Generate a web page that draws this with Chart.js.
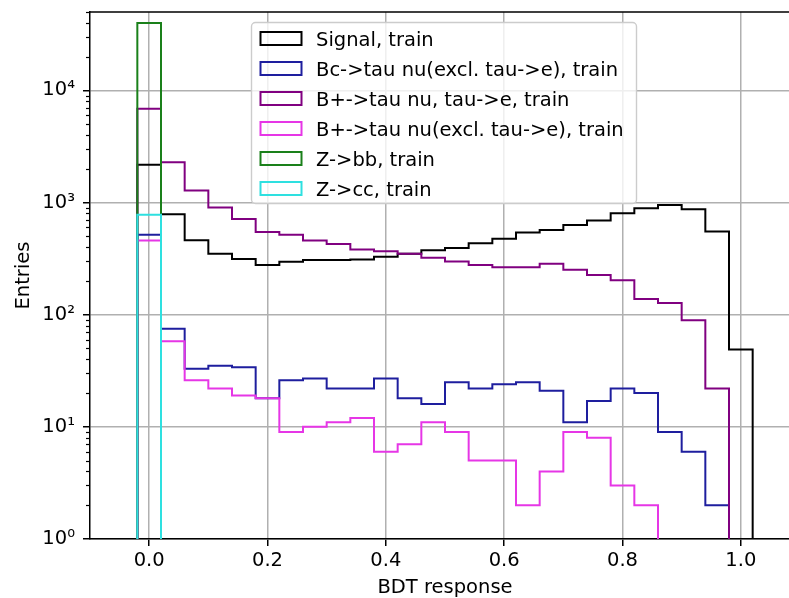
<!DOCTYPE html>
<html>
<head>
<meta charset="utf-8">
<title>BDT response</title>
<script src="https://cdn.jsdelivr.net/npm/chart.js@4.4.1/dist/chart.umd.min.js"></script>
<style>
    html, body { margin: 0; padding: 0; background: #fff; overflow: hidden; }
    #wrap { position: relative; width: 810px; height: 598px; }
</style>
</head>
<body>
<div id="wrap"><canvas id="chartBDT"></canvas></div>
<script>
// ============= DATA =============

// bin edges of the BDT response histogram (26 bins)
const binEdges = [-0.02, 0.02, 0.06, 0.10, 0.14, 0.18, 0.22, 0.26, 0.30, 0.34, 0.38, 0.42, 0.46,
    0.50, 0.54, 0.58, 0.62, 0.66, 0.70, 0.74, 0.78, 0.82, 0.86, 0.90, 0.94, 0.98, 1.02];

const signalTrain = [2170, 785, 462, 349, 314, 277, 297, 308, 308, 310, 328, 349, 375,
    393, 434, 476, 540, 568, 632, 691, 804, 891, 952, 873, 551, 49];
const bcTauNuTrain = [515, 75, 33, 35, 34, 18, 26, 27, 22, 22, 27, 18, 16,
    25, 22, 24, 25, 21, 11, 17, 22, 20, 9, 6, 2, 0];
const bpmTauNuTauETrain = [6850, 2290, 1280, 905, 712, 547, 515, 458, 427, 382, 367, 349, 322,
    298, 278, 265, 265, 284, 251, 226, 203, 138, 127, 89, 22, 0];
const bpmTauNuExclTrain = [458, 58, 26, 22, 19, 18, 9, 10, 11, 12, 6, 7, 11,
    9, 5, 5, 2, 4, 9, 8, 3, 2, 0, 0, 0, 0];
const zbbTrain = [39800, 0, 0, 0, 0, 0, 0, 0, 0, 0, 0, 0, 0,
    0, 0, 0, 0, 0, 0, 0, 0, 0, 0, 0, 0, 0];
const zccTrain = [780, 0, 0, 0, 0, 0, 0, 0, 0, 0, 0, 0, 0,
    0, 0, 0, 0, 0, 0, 0, 0, 0, 0, 0, 0, 0];

const seriesLabels = ['Signal, train', 'Bc->tau nu(excl. tau->e), train', 'B+->tau nu, tau->e, train',
    'B+->tau nu(excl. tau->e), train', 'Z->bb, train', 'Z->cc, train'];
const seriesColors = ['#000000', '#1e1e9e', '#800080', '#e636e6', '#1a801a', '#2ee0e0'];

const xTickValues = [0.0, 0.2, 0.4, 0.6, 0.8, 1.0];
const yMajorTicks = [1, 10, 100, 1000, 10000];
const yMinorFactors = [2, 3, 4, 5, 6, 7, 8, 9];

const X_MIN = -0.1, X_MAX = 1.1;
const Y_MIN = 1, Y_MAX = 50000;
const FLOOR = 0.01; // empty bins drop below the axis (log scale)

const FONT = 'DejaVu Sans';
const FONT_SIZE = 19.5;

// ============= HELPERS =============

// outline of a step histogram: up at the first edge, steps, down at the last edge
function stepPoints(values) {
    const pts = [{ x: binEdges[0], y: FLOOR }];
    values.forEach((v, i) => {
        pts.push({ x: binEdges[i], y: v > 0 ? v : FLOOR });
    });
    pts.push({ x: binEdges[binEdges.length - 1], y: FLOOR });
    return pts;
}

const SUP = { '0': '\u2070', '1': '\u00b9', '2': '\u00b2', '3': '\u00b3', '4': '\u2074' };
function powLabel(v) {
    const e = Math.round(Math.log10(v));
    return '10' + String(e).split('').map(c => SUP[c]).join('');
}

// ============= PLUGINS =============

const framePlugin = {
    id: 'frame',
    afterDatasetsDraw(chart) {
        const { ctx, chartArea, scales } = chart;
        ctx.save();
        // minor ticks of the log axis
        ctx.strokeStyle = '#000';
        ctx.lineWidth = 1.2;
        yMajorTicks.forEach(d => {
            yMinorFactors.forEach(m => {
                const v = d * m;
                if (v > Y_MAX) return;
                const y = Math.round(scales.y.getPixelForValue(v)) + 0.5;
                ctx.beginPath();
                ctx.moveTo(chartArea.left, y);
                ctx.lineTo(chartArea.left - 4, y);
                ctx.stroke();
            });
        });
        // top and right spines
        ctx.lineWidth = 1.5;
        ctx.beginPath();
        ctx.moveTo(chartArea.left, chartArea.top);
        ctx.lineTo(chartArea.right, chartArea.top);
        ctx.lineTo(chartArea.right, chartArea.bottom);
        ctx.stroke();
        ctx.restore();
    }
};

const legendPlugin = {
    id: 'insideLegend',
    afterDraw(chart) {
        const { ctx, chartArea } = chart;
        const left = chartArea.left + 161.5;
        const top = chartArea.top + 10.5;
        const w = 385, h = 181;

        ctx.save();
        ctx.beginPath();
        ctx.roundRect(left, top, w, h, 4);
        ctx.fillStyle = 'rgba(255,255,255,0.8)';
        ctx.fill();
        ctx.strokeStyle = '#cccccc';
        ctx.lineWidth = 1.4;
        ctx.stroke();

        ctx.font = `${FONT_SIZE}px "${FONT}"`;
        ctx.textAlign = 'left';
        ctx.textBaseline = 'alphabetic';
        seriesLabels.forEach((label, i) => {
            const cy = top + 16 + 30 * i;
            ctx.strokeStyle = seriesColors[i];
            ctx.lineWidth = 2;
            ctx.strokeRect(left + 9, cy - 6.5, 41, 13);
            ctx.fillStyle = '#000';
            ctx.fillText(label, left + 64.5, cy + 7);
        });
        ctx.restore();
    }
};

// ============= CHART =============

const seriesValues = [signalTrain, bcTauNuTrain, bpmTauNuTauETrain, bpmTauNuExclTrain, zbbTrain, zccTrain];

const datasets = seriesValues.map((vals, i) => ({
    label: seriesLabels[i],
    data: stepPoints(vals),
    borderColor: seriesColors[i],
    backgroundColor: 'transparent',
    borderWidth: 2,
    stepped: true,
    fill: false,
    pointRadius: 0,
    tension: 0,
    order: seriesValues.length - i
}));

Chart.defaults.font.family = FONT;
Chart.defaults.font.size = FONT_SIZE;
Chart.defaults.color = '#000';

new Chart(document.getElementById('chartBDT').getContext('2d'), {
    type: 'line',
    data: { datasets: datasets },
    options: {
        responsive: true,
        maintainAspectRatio: false,
        animation: false,
        devicePixelRatio: 1,
        layout: { padding: { top: 12, right: 10, bottom: 0, left: 0 } },
        plugins: {
            legend: { display: false },
            tooltip: { enabled: false }
        },
        scales: {
            x: {
                type: 'linear',
                min: X_MIN,
                max: X_MAX,
                afterBuildTicks: (scale) => { scale.ticks = xTickValues.map(v => ({ value: v })); },
                afterFit: (scale) => {
                    scale.height = 59;
                    scale.paddingLeft = 0;
                    scale.paddingRight = 0;
                },
                ticks: {
                    autoSkip: false,
                    maxRotation: 0,
                    padding: 3,
                    callback: (v) => Number(v).toFixed(1)
                },
                grid: {
                    color: '#b0b0b0',
                    lineWidth: 1.5,
                    tickColor: '#000',
                    tickLength: 7,
                    tickWidth: 1.5
                },
                border: { display: true, color: '#000', width: 1.5 },
                title: {
                    display: true,
                    text: 'BDT response',
                    font: { size: FONT_SIZE, lineHeight: 1 },
                    padding: { top: 0, bottom: 0.5 }
                }
            },
            y: {
                type: 'logarithmic',
                min: Y_MIN,
                max: Y_MAX,
                afterBuildTicks: (scale) => { scale.ticks = yMajorTicks.map(v => ({ value: v, major: true })); },
                afterFit: (scale) => {
                    scale.width = 90;
                    scale.paddingTop = 0;
                    scale.paddingBottom = 0;
                },
                ticks: {
                    autoSkip: false,
                    padding: 8,
                    callback: (v) => powLabel(v)
                },
                grid: {
                    color: '#b0b0b0',
                    lineWidth: 1.5,
                    tickColor: '#000',
                    tickLength: 7,
                    tickWidth: 1.5
                },
                border: { display: true, color: '#000', width: 1.5 },
                title: {
                    display: true,
                    text: 'Entries',
                    font: { size: FONT_SIZE, lineHeight: 1 },
                    padding: { top: 14, bottom: 0 }
                }
            }
        }
    },
    plugins: [framePlugin, legendPlugin]
});
</script>
</body>
</html>
